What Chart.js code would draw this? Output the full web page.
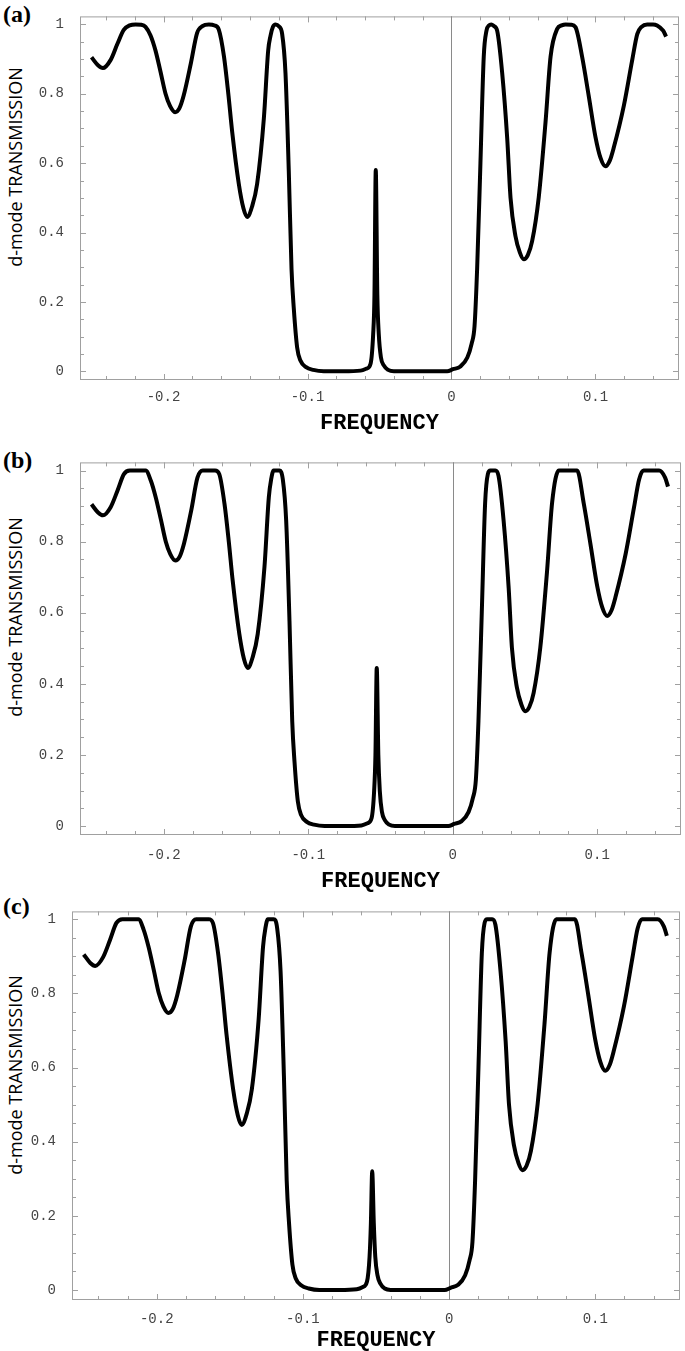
<!DOCTYPE html>
<html>
<head>
<meta charset="utf-8">
<script src="https://cdn.jsdelivr.net/npm/chart.js@4/dist/chart.umd.min.js"></script>
<style>
  body { margin: 0; background: #fff; width: 685px; height: 1351px; position: relative; overflow: hidden; }
  canvas { position: absolute; left: 0; }
  .lbl { position: absolute; left: 3px; font: bold 24px "Liberation Serif"; line-height: 28px; }
  .ytl { position: absolute; left: 15px; font: 18px "Open Sans"; white-space: nowrap;
         transform: translate(-50%, -50%) rotate(-90deg); }
</style>
</head>
<body>
<div class="lbl" style="top:0px">(a)</div>
<div class="lbl" style="top:446px">(b)</div>
<div class="lbl" style="top:892px">(c)</div>
<div class="ytl" style="top:167px">d-mode TRANSMISSION</div>
<div class="ytl" style="top:617px">d-mode TRANSMISSION</div>
<div class="ytl" style="top:1075px">d-mode TRANSMISSION</div>
<canvas id="chartA"></canvas>
<canvas id="chartB"></canvas>
<canvas id="chartC"></canvas>
<script>
// frequency samples, shared by all three panels
const freq = [
  -0.25, -0.2455, -0.2421, -0.2368, -0.232, -0.2276, -0.2235, -0.2194, -0.2155, -0.2125,
  -0.209, -0.2056, -0.202, -0.1986, -0.1955, -0.192, -0.189, -0.186, -0.181, -0.1767,
  -0.173, -0.1685, -0.1645, -0.1616, -0.158, -0.155, -0.1523, -0.1477, -0.1445, -0.1419,
  -0.1385, -0.135, -0.1303, -0.1273, -0.1257, -0.124, -0.1222, -0.12, -0.1176, -0.1153,
  -0.113, -0.1111, -0.1095, -0.1072, -0.1049, -0.101, -0.096, -0.0887, -0.075, -0.0632,
  -0.059, -0.0562, -0.0544, -0.0535, -0.0526, -0.0515, -0.0505, -0.049, -0.047, -0.044,
  -0.04, -0.02, -0.003, 0.001, 0.0062, 0.011, 0.014, 0.016, 0.0178, 0.0201,
  0.0224, 0.0243, 0.026, 0.0276, 0.0295, 0.0317, 0.0352, 0.0387, 0.041, 0.0444,
  0.0475, 0.0502, 0.053, 0.056, 0.0606, 0.0653, 0.0688, 0.0734, 0.0765, 0.0792,
  0.083, 0.0861, 0.0907, 0.0953, 0.1, 0.1035, 0.1069, 0.11, 0.1127, 0.1197,
  0.1255, 0.129, 0.132, 0.1359, 0.14, 0.1428, 0.147, 0.149
];

const transA = [
  0.905, 0.882, 0.874, 0.897, 0.944, 0.984, 0.997, 1.0, 0.999, 0.993,
  0.968, 0.925, 0.862, 0.800, 0.765, 0.747, 0.758, 0.795, 0.888, 0.975,
  0.995, 1.0, 0.997, 0.985, 0.907, 0.80, 0.69, 0.54, 0.47, 0.445,
  0.475, 0.54, 0.73, 0.925, 0.967, 0.993, 1.0, 0.995, 0.972, 0.86,
  0.577, 0.295, 0.18, 0.069, 0.031, 0.012, 0.004, 0.0, 0.0, 0.002,
  0.008, 0.022, 0.107, 0.22, 0.58, 0.22, 0.107, 0.04, 0.017, 0.004,
  0.0, 0.0, 0.0, 0.006, 0.014, 0.04, 0.08, 0.13, 0.295, 0.60,
  0.907, 0.982, 0.997, 1.0, 0.995, 0.982, 0.86, 0.671, 0.50, 0.39,
  0.342, 0.323, 0.335, 0.375, 0.502, 0.718, 0.907, 0.987, 0.997, 1.0,
  0.999, 0.992, 0.907, 0.794, 0.675, 0.615, 0.591, 0.608, 0.645, 0.766,
  0.897, 0.972, 0.993, 1.0, 1.0, 0.997, 0.982, 0.965
];

const transB = [
  0.905, 0.882, 0.874, 0.897, 0.944, 0.99, 1, 1, 1, 1,
  0.972, 0.925, 0.862, 0.800, 0.765, 0.747, 0.758, 0.795, 0.888, 0.98,
  1, 1, 1, 0.99, 0.907, 0.80, 0.69, 0.54, 0.47, 0.445,
  0.475, 0.54, 0.73, 0.925, 0.975, 1, 1, 1, 0.975, 0.86,
  0.577, 0.295, 0.18, 0.069, 0.031, 0.012, 0.004, 0.0, 0.0, 0.002,
  0.008, 0.022, 0.1, 0.2, 0.445, 0.2, 0.1, 0.04, 0.017, 0.004,
  0.0, 0.0, 0.0, 0.006, 0.014, 0.04, 0.08, 0.13, 0.295, 0.60,
  0.907, 0.99, 1, 1, 1, 0.985, 0.86, 0.671, 0.50, 0.39,
  0.342, 0.323, 0.335, 0.375, 0.502, 0.718, 0.91, 1, 1, 1,
  1, 1, 0.907, 0.794, 0.675, 0.615, 0.591, 0.608, 0.645, 0.766,
  0.897, 0.975, 1, 1, 1, 1, 0.98, 0.955
];

const transC = [
  0.905, 0.882, 0.874, 0.897, 0.944, 0.99, 1, 1, 1, 1,
  0.972, 0.925, 0.862, 0.800, 0.765, 0.747, 0.758, 0.795, 0.888, 0.98,
  1, 1, 1, 0.99, 0.907, 0.80, 0.69, 0.54, 0.47, 0.445,
  0.475, 0.54, 0.73, 0.925, 0.975, 1, 1, 1, 0.975, 0.86,
  0.577, 0.295, 0.18, 0.069, 0.031, 0.012, 0.004, 0.0, 0.0, 0.002,
  0.008, 0.022, 0.09, 0.18, 0.32, 0.18, 0.09, 0.04, 0.017, 0.004,
  0.0, 0.0, 0.0, 0.006, 0.014, 0.04, 0.08, 0.13, 0.295, 0.60,
  0.907, 0.99, 1, 1, 1, 0.985, 0.86, 0.671, 0.50, 0.39,
  0.342, 0.323, 0.335, 0.375, 0.502, 0.718, 0.91, 1, 1, 1,
  1, 1, 0.907, 0.794, 0.675, 0.615, 0.591, 0.608, 0.645, 0.766,
  0.897, 0.975, 1, 1, 1, 1, 0.98, 0.955
];

// tick labels and tick marks
const xLabels = [-0.2, -0.1, 0, 0.1];
const yLabels = [0, 0.2, 0.4, 0.6, 0.8, 1];
const xMarks = [-0.24, -0.22, -0.2, -0.18, -0.16, -0.14, -0.12, -0.1, -0.08, -0.06, -0.04, -0.02,
                0, 0.02, 0.04, 0.06, 0.08, 0.1, 0.12, 0.14];
const yMarks = [0, 0.05, 0.1, 0.15, 0.2, 0.25, 0.3, 0.35, 0.4, 0.45, 0.5, 0.55, 0.6, 0.65, 0.7,
                0.75, 0.8, 0.85, 0.9, 0.95, 1];

const isMajor = (v, step) => Math.abs(v / step - Math.round(v / step)) < 1e-6;

const framePlugin = {
  id: 'frame',
  beforeDatasetsDraw(chart) {
    const { ctx, chartArea: a, scales: { x, y } } = chart;
    ctx.save();
    ctx.strokeStyle = '#a0a0a0';
    ctx.lineWidth = 1;
    ctx.strokeRect(a.left + 0.5, a.top + 0.5, a.right - a.left - 1, a.bottom - a.top - 1);
    ctx.beginPath();
    xMarks.forEach(v => {
      const p = Math.round(x.getPixelForValue(v)) + 0.5;
      const len = isMajor(v, 0.1) ? 6 : 4;
      ctx.moveTo(p, a.bottom); ctx.lineTo(p, a.bottom - len);
      ctx.moveTo(p, a.top); ctx.lineTo(p, a.top + len);
    });
    yMarks.forEach(v => {
      const p = Math.round(y.getPixelForValue(v)) + 0.5;
      const len = isMajor(v, 0.2) ? 6 : 4;
      ctx.moveTo(a.left, p); ctx.lineTo(a.left + len, p);
      ctx.moveTo(a.right, p); ctx.lineTo(a.right - len, p);
    });
    ctx.stroke();
    // vertical line at zero frequency
    ctx.strokeStyle = '#8a8a8a';
    ctx.beginPath();
    const z = Math.round(x.getPixelForValue(0)) + 0.5;
    ctx.moveTo(z, a.top); ctx.lineTo(z, a.bottom);
    ctx.stroke();
    ctx.restore();
  }
};

const fmt = v => (Math.abs(v) < 1e-9 ? '0' : String(+v.toFixed(1)));
const tickFont = { family: 'Liberation Mono', size: 14 };

function makePanel(id, values, p) {
  const cv = document.getElementById(id);
  cv.width = 685; cv.height = p.h;
  cv.style.top = p.top + 'px';
  return new Chart(cv, {
    type: 'line',
    data: {
      datasets: [{
        data: freq.map((f, i) => ({ x: f, y: values[i] })),
        borderColor: '#000',
        borderWidth: 4,
        pointRadius: 0,
        cubicInterpolationMode: 'monotone',
        fill: false
      }]
    },
    options: {
      responsive: false,
      animation: false,
      layout: { padding: { top: p.padTop, right: p.padRight, left: 0, bottom: 0 } },
      plugins: { legend: { display: false }, tooltip: { enabled: false } },
      scales: {
        x: {
          type: 'linear',
          min: -0.258, max: 0.158,
          grid: { display: false },
          border: { display: false },
          afterBuildTicks: s => { s.ticks = xLabels.map(v => ({ value: v })); },
          afterFit: s => { s.height = p.xH; },
          ticks: { callback: fmt, font: tickFont, color: '#444', padding: p.tickPad, maxRotation: 0, autoSkip: false },
          title: {
            display: true, text: 'FREQUENCY', color: '#000',
            font: { family: 'Liberation Mono', size: 22, weight: 'bold' },
            padding: { top: 0, bottom: p.titlePad }
          }
        },
        y: {
          min: p.ymin, max: p.ymax,
          grid: { display: false },
          border: { display: false },
          afterBuildTicks: s => { s.ticks = yLabels.map(v => ({ value: v })); },
          afterFit: s => { s.width = p.yW; },
          ticks: { callback: fmt, font: tickFont, color: '#444', padding: 8, autoSkip: false }
        }
      }
    },
    plugins: [framePlugin]
  });
}

makePanel('chartA', transA, { top: 0, h: 440, padTop: 9, padRight: 6, yW: 80, xH: 60, ymin: -0.025, ymax: 1.023, tickPad: 1, titlePad: 3 });
makePanel('chartB', transB, { top: 446, h: 449, padTop: 9, padRight: 4, yW: 80, xH: 60, ymin: -0.025, ymax: 1.023, tickPad: 4, titlePad: 0 });
makePanel('chartC', transC, { top: 895, h: 456, padTop: 11, padRight: 5, yW: 72, xH: 51, ymin: -0.027, ymax: 1.021, tickPad: 3, titlePad: -3 });
</script>
</body>
</html>
